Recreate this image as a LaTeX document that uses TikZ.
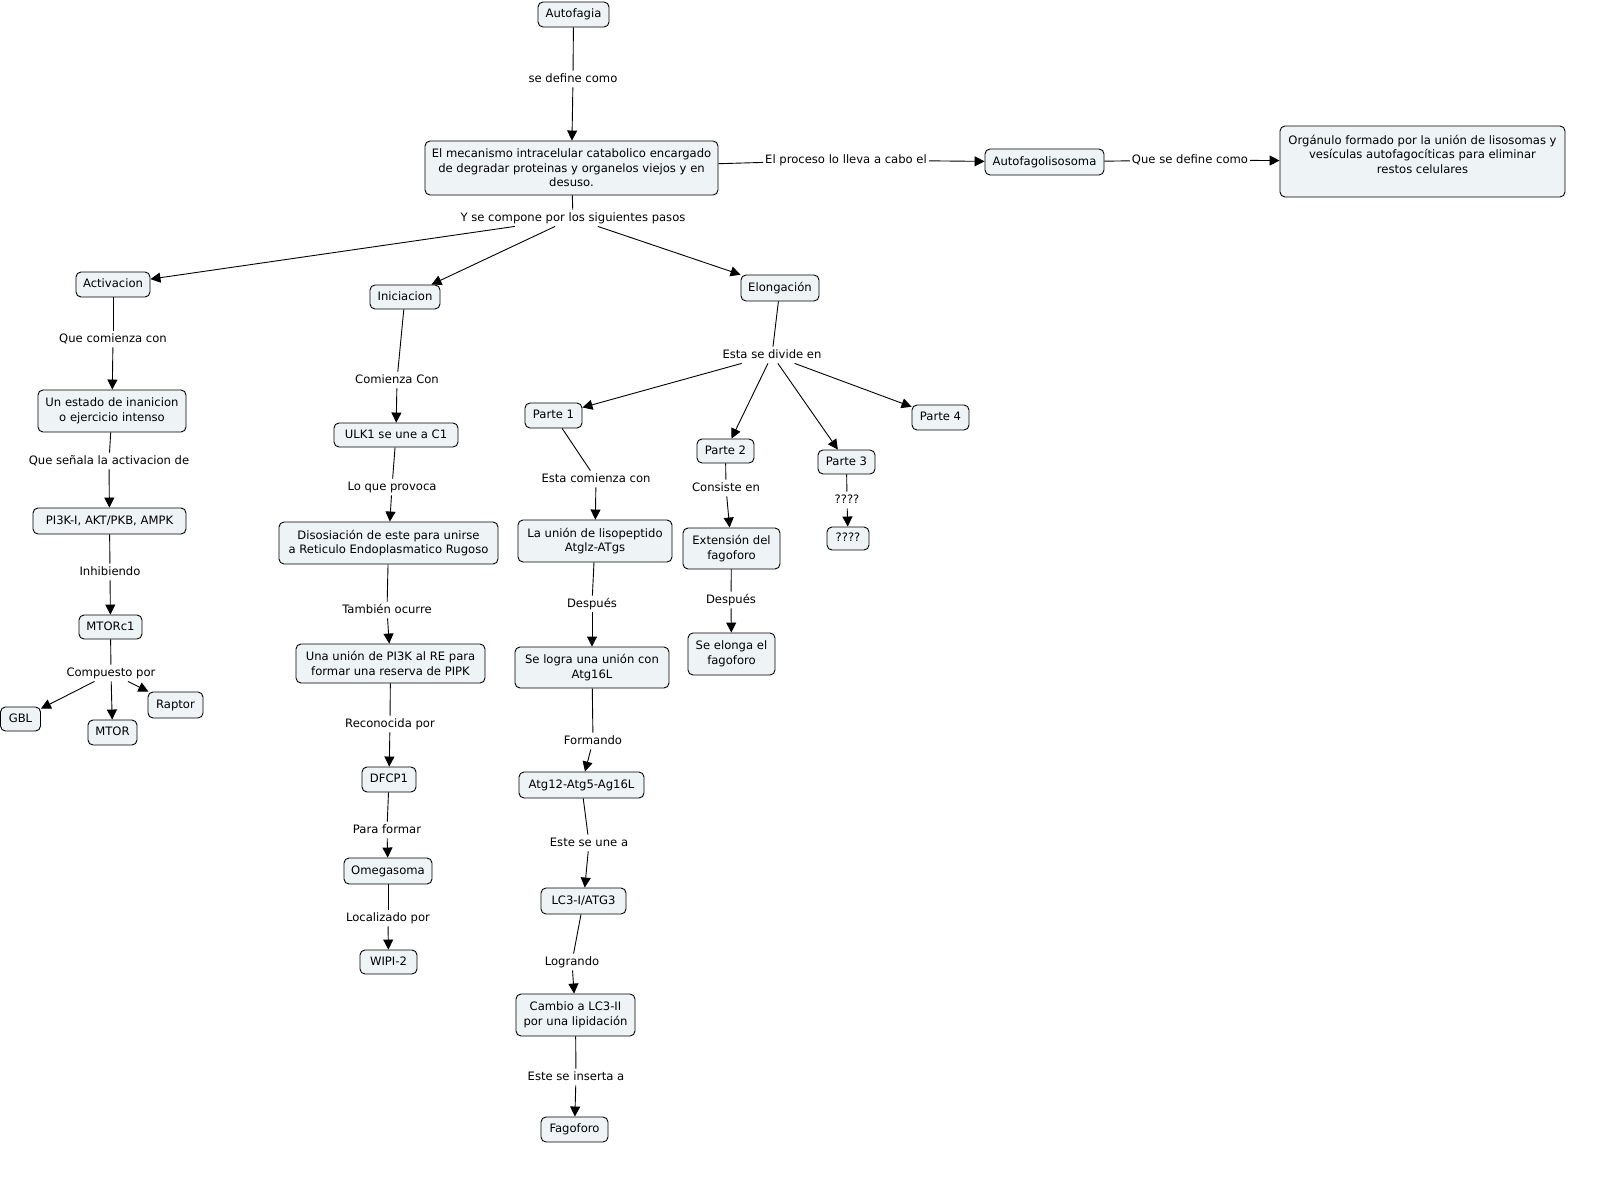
\documentclass[tikz,border=0pt]{standalone}
\usepackage{fontspec}
\setmainfont{DejaVu Sans}
\usetikzlibrary{arrows.meta}
\definecolor{boxfill}{RGB}{238,243,245}
\tikzset{
  box/.style={draw=black, fill=boxfill, rounded corners=5pt, line width=0.9pt, align=center,
    inner sep=0pt, font=\fontsize{11.6}{14.5}\selectfont},
  sl/.style={text height=8.8pt, text depth=2.6pt},
  lbl/.style={inner xsep=2pt, inner ysep=2.5pt, text height=8.8pt, text depth=2.6pt,
    font=\fontsize{11.6}{14.5}\selectfont},
  ln/.style={draw=black, line width=0.9pt},
  arr/.style={draw=black, line width=0.9pt, -{Triangle[length=10pt,width=10pt]}},
}
\begin{document}
\begin{tikzpicture}[x=1pt,y=-1pt]
\useasboundingbox (0,0) rectangle (1618,1183);

% top
\node[box, sl, minimum width=71, minimum height=25] (autofagia) at (573.5,14.5) {Autofagia};
\node[lbl] (l1) at (573,79) {se define como};
\node[box, minimum width=293, minimum height=54] (main) at (571.5,168) {El mecanismo intracelular catabolico encargado\\de degradar proteinas y organelos viejos y en\\desuso.};
\node[lbl] (l2) at (573,218) {Y se compone por los siguientes pasos};
\node[lbl] (l3) at (846,160) {El proceso lo lleva a cabo el\ };
\node[box, sl, minimum width=119, minimum height=26] (afl) at (1044.5,162) {Autofagolisosoma};
\node[lbl] (l4) at (1190,160) {Que se define como};
\node[box, minimum width=285, minimum height=71] (org) at (1422.5,161.5) {Orgánulo formado por la unión de lisosomas y\\vesículas autofagocíticas para eliminar\\restos celulares\\\mbox{}};

\draw[ln] (autofagia) -- (l1);
\draw[arr] (l1) -- (main);
\draw[ln] (main) -- (l2);
\draw[ln] (main) -- (l3);
\draw[arr] (l3) -- (afl);
\draw[ln] (afl) -- (l4);
\draw[arr] (l4) -- (org);

% steps
\node[box, sl, minimum width=74, minimum height=25] (act) at (113,284.5) {Activacion};
\node[box, sl, minimum width=70, minimum height=24] (ini) at (405,297) {Iniciacion};
\node[box, sl, minimum width=78, minimum height=26] (elo) at (780,288) {Elongación};
\draw[arr] (l2) -- (act);
\draw[arr] (l2) -- (ini);
\draw[arr] (l2) -- (elo);

% Activacion chain
\node[lbl] (a1) at (113,339) {Que comienza con};
\node[box, minimum width=148, minimum height=42] (estado) at (112,411) {Un estado de inanicion\\o ejercicio intenso};
\node[lbl] (a2) at (109,461) {Que señala la activacion de};
\node[box, sl, minimum width=153, minimum height=26] (pi3k) at (109.5,521) {PI3K-I, AKT/PKB, AMPK};
\node[lbl] (a3) at (110,572) {Inhibiendo};
\node[box, sl, minimum width=63, minimum height=24] (mtorc) at (110.5,627) {MTORc1};
\node[lbl] (a4) at (111,673) {Compuesto por};
\node[box, sl, minimum width=40, minimum height=24] (gbl) at (20.5,719) {GBL};
\node[box, sl, minimum width=49, minimum height=25] (mtor) at (112.5,732.5) {MTOR};
\node[box, sl, minimum width=55, minimum height=26] (raptor) at (175.5,705) {Raptor};
\draw[ln] (act) -- (a1);
\draw[arr] (a1) -- (estado);
\draw[ln] (estado) -- (a2);
\draw[arr] (a2) -- (pi3k);
\draw[ln] (pi3k) -- (a3);
\draw[arr] (a3) -- (mtorc);
\draw[ln] (mtorc) -- (a4);
\draw[arr] (a4) -- (gbl);
\draw[arr] (a4) -- (mtor);
\draw[arr] (a4) -- (raptor);

% Iniciacion chain
\node[lbl] (i1) at (397,380) {Comienza Con};
\node[box, sl, minimum width=124, minimum height=24] (ulk) at (396,435) {ULK1 se une a C1};
\node[lbl] (i2) at (392,487) {Lo que provoca};
\node[box, minimum width=219, minimum height=42] (diso) at (388.5,543) {Disosiación de este para unirse\\a Reticulo Endoplasmatico Rugoso};
\node[lbl] (i3) at (387,610) {También ocurre};
\node[box, minimum width=189, minimum height=39] (union) at (390.5,663.5) {Una unión de PI3K al RE para\\formar una reserva de PIPK};
\node[lbl] (i4) at (390,724) {Reconocida por};
\node[box, sl, minimum width=54, minimum height=25] (dfcp) at (389,779.5) {DFCP1};
\node[lbl] (i5) at (387,830) {Para formar};
\node[box, sl, minimum width=88, minimum height=26] (omega) at (388,871) {Omegasoma};
\node[lbl] (i6) at (388,918) {Localizado por};
\node[box, sl, minimum width=57, minimum height=24] (wipi) at (388.5,962) {WIPI-2};
\draw[ln] (ini) -- (i1);
\draw[arr] (i1) -- (ulk);
\draw[ln] (ulk) -- (i2);
\draw[arr] (i2) -- (diso);
\draw[ln] (diso) -- (i3);
\draw[arr] (i3) -- (union);
\draw[ln] (union) -- (i4);
\draw[arr] (i4) -- (dfcp);
\draw[ln] (dfcp) -- (i5);
\draw[arr] (i5) -- (omega);
\draw[ln] (omega) -- (i6);
\draw[arr] (i6) -- (wipi);

% Elongacion
\node[lbl] (e0) at (772,355) {Esta se divide en};
\node[box, sl, minimum width=57, minimum height=25] (p1) at (553.5,415.5) {Parte 1};
\node[box, sl, minimum width=57, minimum height=24] (p2) at (725.5,451) {Parte 2};
\node[box, sl, minimum width=57, minimum height=24] (p3) at (846.5,462) {Parte 3};
\node[box, sl, minimum width=57, minimum height=25] (p4) at (940.5,417.5) {Parte 4};
\draw[ln] (elo) -- (e0);
\draw[arr] (e0) -- (p1);
\draw[arr] (e0) -- (p2);
\draw[arr] (e0) -- (p3);
\draw[arr] (e0) -- (p4);

% Parte 1 chain
\node[lbl] (q1) at (596,479) {Esta comienza con};
\node[box, minimum width=154, minimum height=42] (lis) at (595,541) {La unión de lisopeptido\\Atglz-ATgs};
\node[lbl] (q2) at (592,604) {Después};
\node[box, minimum width=154, minimum height=41] (logra) at (592,667.5) {Se logra una unión con\\Atg16L};
\node[lbl] (q3) at (593,741) {Formando};
\node[box, sl, minimum width=125, minimum height=26] (atg12) at (581.5,785) {Atg12-Atg5-Ag16L};
\node[lbl] (q4) at (589,843) {Este se une a};
\node[box, sl, minimum width=85, minimum height=26] (lc3) at (583.5,901) {LC3-I/ATG3};
\node[lbl] (q5) at (572,962) {Logrando};
\node[box, minimum width=119, minimum height=42] (cambio) at (575.5,1015) {Cambio a LC3-II\\por una lipidación};
\node[lbl] (q6) at (576,1077) {Este se inserta a};
\node[box, sl, minimum width=67, minimum height=25] (fago) at (574.5,1129.5) {Fagoforo};
\draw[ln] (p1) -- (q1);
\draw[arr] (q1) -- (lis);
\draw[ln] (lis) -- (q2);
\draw[arr] (q2) -- (logra);
\draw[ln] (logra) -- (q3);
\draw[arr] (q3) -- (atg12);
\draw[ln] (atg12) -- (q4);
\draw[arr] (q4) -- (lc3);
\draw[ln] (lc3) -- (q5);
\draw[arr] (q5) -- (cambio);
\draw[ln] (cambio) -- (q6);
\draw[arr] (q6) -- (fago);

% Parte 2 chain
\node[lbl] (r1) at (726,488) {Consiste en};
\node[box, minimum width=97, minimum height=41] (ext) at (731.5,548.5) {Extensión del\\fagoforo};
\node[lbl] (r2) at (731,600) {Después};
\node[box, minimum width=87, minimum height=42] (elonga) at (731.5,654) {Se elonga el\\fagoforo};
\draw[ln] (p2) -- (r1);
\draw[arr] (r1) -- (ext);
\draw[ln] (ext) -- (r2);
\draw[arr] (r2) -- (elonga);

% Parte 3 chain
\node[lbl] (s1) at (847,500) {????};
\node[box, sl, minimum width=42, minimum height=23] (qq) at (848,538.5) {????};
\draw[ln] (p3) -- (s1);
\draw[arr] (s1) -- (qq);
\end{tikzpicture}
\end{document}
